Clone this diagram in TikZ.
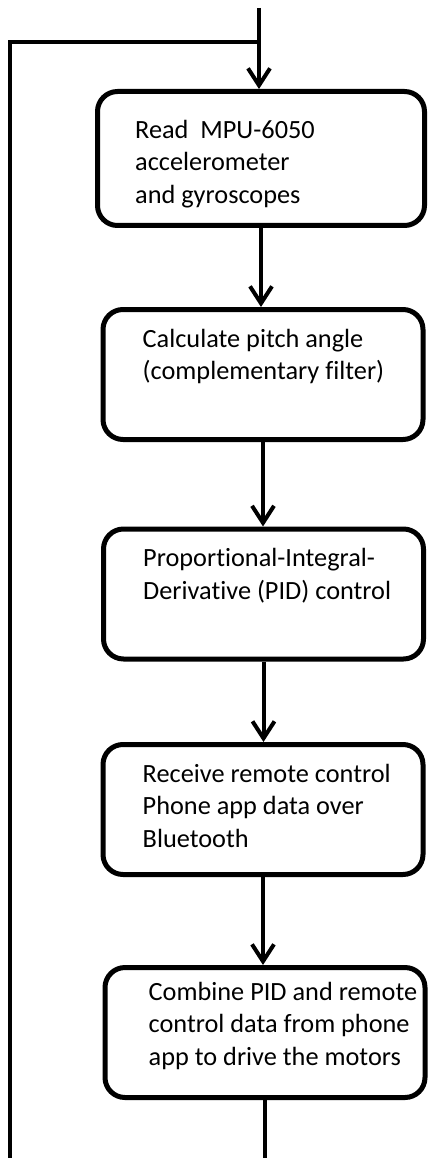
\documentclass[tikz,border=0pt]{standalone}
\usepackage{fontspec}
\setmainfont{Carlito}[Ligatures={NoCommon,NoContextual}]
\usepackage{tikz}
\usetikzlibrary{arrows.meta}
\newcommand{\widthstep}{320pt}
\newcommand{\heightstep}{130pt}
\tikzset{
    common/.style={line width=4pt},
    stepbox/.style={draw, rectangle, rounded corners=20pt, line width=5pt, minimum width=\widthstep, minimum height=\heightstep, inner sep=0pt},
    steptext/.style={anchor=north west, xshift=42pt, yshift=-22pt, align=left, inner sep=0pt, font=\fontsize{26.3}{32.5}\selectfont\strut},
    flow/.style={common, -{Straight Barb[length=17pt, width=22pt]}},
    loop/.style={common}
}

\begin{document}
\begin{tikzpicture}[x=1pt, y=-1pt]
      \useasboundingbox (0,0) rectangle (428,1158);

      \coordinate (entry) at (259,8);
      \coordinate (merge) at (259,42);
      \coordinate (return) at (10,1158);
      \coordinate (exit) at (267,1158);

      \node[stepbox, minimum width=327pt, minimum height=134pt,
              label={[steptext, xshift=-2pt, yshift=-9pt]north west:{Read\ \ MPU-6050\\accelerometer\\and gyroscopes}}
                  ] (read) at (261,158.5) {};
      \node[stepbox,
              label={[steptext]north west:{Calculate pitch angle\\(complementary filter)}}
                  ] (pitch) at (263,374.5) {};
      \node[stepbox,
              label={[steptext]north west:{Proportional-Integral-\\Derivative (PID) control}}
                  ] (pid) at (263.5,594) {};
      \node[stepbox,
              label={[steptext]north west:{Receive remote control\\Phone app data over\\Bluetooth}}
                  ] (remote) at (263,809.5) {};
      \node[stepbox,
              label={[steptext, xshift=4pt, yshift=5pt]north west:{Combine PID and remote\\control data from phone\\app to drive the motors}}
                  ] (motors) at (265,1032.5) {};

      \draw[flow] (entry) -- (entry |- read.north);
      \draw[flow] (read.south) -- (read.south |- pitch.north);
      \draw[flow] (pitch.south) -- (pitch.south |- pid.north);
      \draw[flow] (pid.south) -- (pid.south |- remote.north);
      \draw[flow] (remote.south) -- (remote.south |- motors.north);
      \draw[loop] (motors.south) -- (motors.south |- exit);
      \draw[loop] (return) |- (merge);

  \end{tikzpicture}
\end{document}
